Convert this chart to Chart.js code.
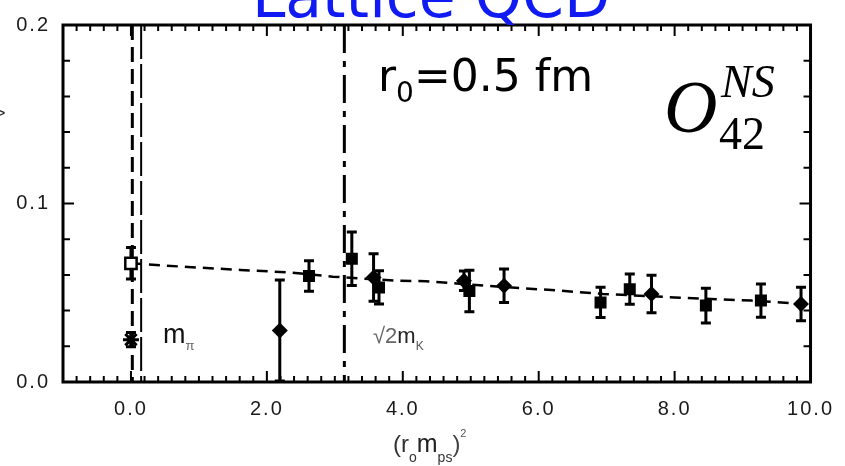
<!DOCTYPE html>
<html>
<head>
<meta charset="utf-8">
<script src="https://cdn.jsdelivr.net/npm/chart.js@4.4.1/dist/chart.umd.min.js"></script>
<style>
  html, body { margin: 0; padding: 0; background: #fff; }
  #grafico { display: block; }
</style>
</head>
<body>
<canvas id="grafico" width="845" height="466"></canvas>
<script>
// eixo x: (r0 mps)^2, eixo y: elemento de matriz
const xTicks = [0, 2, 4, 6, 8, 10];
const yTicks = [0, 0.1, 0.2];

// valor extrapolado (quadrado aberto)
const extrapX = [0.0];
const extrapY = [0.0665];
const extrapErr = [0.0088];

// ponto fisico (estrela)
const fisX = [0.0];
const fisY = [0.0237];
const fisErr = [0.004];

const diamX = [2.19, 3.57, 4.90, 5.49, 7.66, 9.86];
const diamY = [0.0289, 0.0585, 0.0567, 0.0539, 0.0493, 0.0437];
const diamErr = [0.0283, 0.0133, 0.0055, 0.0094, 0.0105, 0.0094];

const quadX = [2.62, 3.25, 3.65, 4.98, 6.91, 7.34, 8.46, 9.27];
const quadY = [0.0594, 0.0690, 0.0530, 0.0510, 0.0446, 0.0520, 0.0428, 0.0456];
const quadErr = [0.0085, 0.0150, 0.0093, 0.0116, 0.0085, 0.0085, 0.0097, 0.0093];

// ajuste tracejado
const ajusteX = [0.0, 0.84, 1.61, 2.36, 2.97, 3.95, 4.34, 5.43, 6.19, 6.95, 8.0, 9.13, 10.0];
const ajusteY = [0.0665, 0.0644, 0.0628, 0.0613, 0.0590, 0.0567, 0.0565, 0.0533, 0.0515, 0.0493, 0.0474, 0.0456, 0.0435];

// linhas verticais: x = 0, m_pi, sqrt(2) m_K
const zeroX = 0.02;
const mpiX = 0.15;
const mkX = 3.14;

const pares = (xs, ys) => xs.map((v, i) => ({ x: v, y: ys[i] }));

// escreve texto com sub/sobrescritos: partes = [[texto, fonte, dy, cor]]
function texto(ctx, x, y, partes) {
  partes.forEach(p => {
    ctx.font = p[1];
    ctx.fillStyle = p[3] || '#000';
    ctx.fillText(p[0], x, y + (p[2] || 0));
    x += ctx.measureText(p[0]).width;
  });
}

const decor = {
  id: 'decor',
  beforeDraw(chart) {
    chart.ctx.letterSpacing = '2px';
  },
  beforeDatasetsDraw(chart) {
    const { ctx, chartArea: a, scales: { x, y } } = chart;
    ctx.save();
    ctx.strokeStyle = '#000';
    const vline = (v, dash, w) => {
      const px = x.getPixelForValue(v);
      ctx.beginPath();
      ctx.setLineDash(dash);
      ctx.lineWidth = w;
      ctx.moveTo(px, a.top);
      ctx.lineTo(px, a.bottom);
      ctx.stroke();
    };
    vline(zeroX, [15, 7], 3);
    vline(mpiX, [34, 5], 2);
    vline(mkX, [28, 8, 6, 8], 3);
    ctx.setLineDash([]);

    // barras de erro
    chart.data.datasets.forEach(ds => {
      if (!ds.erros) return;
      ds.data.forEach((p, j) => {
        const px = x.getPixelForValue(p.x);
        const lo = y.getPixelForValue(Math.max(0, p.y - ds.erros[j]));
        const hi = y.getPixelForValue(p.y + ds.erros[j]);
        ctx.lineWidth = 3;
        ctx.beginPath();
        ctx.moveTo(px, lo); ctx.lineTo(px, hi);
        ctx.moveTo(px - 5, lo); ctx.lineTo(px + 5, lo);
        ctx.moveTo(px - 5, hi); ctx.lineTo(px + 5, hi);
        ctx.stroke();
      });
    });
    ctx.restore();
  },
  afterDraw(chart) {
    const { ctx, chartArea: a, scales: { x, y } } = chart;
    ctx.save();
    ctx.letterSpacing = '0px';
    ctx.strokeStyle = '#000';

    // marcas menores e maiores nos quatro lados
    ctx.lineWidth = 2;
    ctx.beginPath();
    for (let k = -4; k <= 49; k++) {
      const px = x.getPixelForValue(k * 0.2);
      const len = k % 10 === 0 ? 11 : 6;
      ctx.moveTo(px, a.bottom); ctx.lineTo(px, a.bottom - len);
      ctx.moveTo(px, a.top); ctx.lineTo(px, a.top + len);
    }
    for (let k = 1; k <= 9; k++) {
      const py = y.getPixelForValue(k * 0.02);
      const len = k === 5 ? 11 : 7;
      ctx.moveTo(a.left, py); ctx.lineTo(a.left + len, py);
      ctx.moveTo(a.right, py); ctx.lineTo(a.right - len, py);
    }
    ctx.stroke();

    ctx.lineWidth = 3;
    ctx.strokeRect(a.left, a.top, a.right - a.left, a.bottom - a.top);

    // titulo (cortado no topo)
    ctx.textAlign = 'center';
    ctx.textBaseline = 'alphabetic';
    ctx.font = '60px "DejaVu Sans"';
    ctx.fillStyle = '#0f1bf2';
    ctx.fillText('Lattice QCD', 431, 17);

    ctx.textAlign = 'left';
    texto(ctx, 378, 91, [
      ['r', '44px "DejaVu Sans"'],
      ['0', '28px "DejaVu Sans"', 11],
      ['=0.5 fm', '44px "DejaVu Sans"']
    ]);

    ctx.font = 'italic 74px "Liberation Serif"';
    ctx.fillStyle = '#000';
    ctx.fillText('O', 664, 132);
    ctx.font = 'italic 46px "Liberation Serif"';
    ctx.fillText('NS', 721, 97);
    ctx.font = '46px "Liberation Serif"';
    ctx.fillText('42', 719, 149);

    texto(ctx, 163, 343, [
      ['m', '27px "Liberation Sans"', 0, '#111'],
      ['π', '13px "Liberation Sans"', 7, '#666']
    ]);
    texto(ctx, 373, 343, [
      ['√2', '22px "Liberation Sans"', 0, '#666'],
      ['m', '22px "Liberation Sans"', 0, '#222'],
      ['K', '12px "Liberation Sans"', 7, '#555']
    ]);

    // titulo do eixo x
    texto(ctx, 393, 452, [
      ['(r', '24px "Liberation Sans"', 0, '#333'],
      ['o', '14px "Liberation Sans"', 10, '#333'],
      ['m', '25px "Liberation Sans"', 0, '#222'],
      ['ps', '14px "Liberation Sans"', 10, '#333'],
      [')', '24px "Liberation Sans"', 0, '#444'],
      ['2', '11px "Liberation Sans"', -15, '#555']
    ]);

    // resto do titulo do eixo y
    ctx.font = '18px "Liberation Sans"';
    ctx.fillStyle = '#222';
    ctx.fillText('>', -5, 119);
    ctx.restore();
  }
};

const grafico = new Chart(document.getElementById('grafico'), {
  type: 'scatter',
  data: {
    datasets: [
      {
        data: pares(ajusteX, ajusteY),
        showLine: true,
        borderColor: '#000',
        borderWidth: 2.5,
        borderDash: [11, 7],
        pointRadius: 0,
        order: 10
      },
      {
        data: pares(quadX, quadY),
        erros: quadErr,
        pointStyle: 'rect',
        pointRadius: 8.5,
        backgroundColor: '#000',
        borderWidth: 0
      },
      {
        data: pares(diamX, diamY),
        erros: diamErr,
        pointStyle: 'rectRot',
        pointRadius: 8,
        backgroundColor: '#000',
        borderWidth: 0
      },
      {
        data: pares(extrapX, extrapY),
        erros: extrapErr,
        pointStyle: 'rect',
        pointRadius: 8,
        backgroundColor: '#fff',
        borderColor: '#000',
        borderWidth: 2.5
      },
      {
        data: pares(fisX, fisY),
        erros: fisErr,
        pointStyle: 'star',
        pointRadius: 8,
        borderColor: '#000',
        borderWidth: 3
      }
    ]
  },
  options: {
    responsive: false,
    animation: false,
    devicePixelRatio: 1,
    layout: { padding: { top: 22, right: 21, left: 0, bottom: 0 } },
    plugins: { legend: { display: false }, tooltip: { enabled: false } },
    scales: {
      x: {
        type: 'linear',
        min: -1,
        max: 10,
        grid: { display: false, drawTicks: false },
        border: { display: false },
        afterBuildTicks: s => { s.ticks = xTicks.map(v => ({ value: v })); },
        afterFit: s => { s.height = 84; },
        ticks: {
          autoSkip: false,
          maxRotation: 0,
          padding: 15,
          color: '#1a1a1a',
          font: { family: 'Liberation Sans', size: 20 },
          callback: v => v.toFixed(1)
        }
      },
      y: {
        min: 0,
        max: 0.2,
        grid: { display: false, drawTicks: false },
        border: { display: false },
        afterBuildTicks: s => { s.ticks = yTicks.map(v => ({ value: v })); },
        afterFit: s => { s.width = 63; },
        ticks: {
          autoSkip: false,
          padding: 13,
          color: '#1a1a1a',
          font: { family: 'Liberation Sans', size: 20 },
          callback: v => v.toFixed(1)
        }
      }
    }
  },
  plugins: [decor]
});
</script>
</body>
</html>
